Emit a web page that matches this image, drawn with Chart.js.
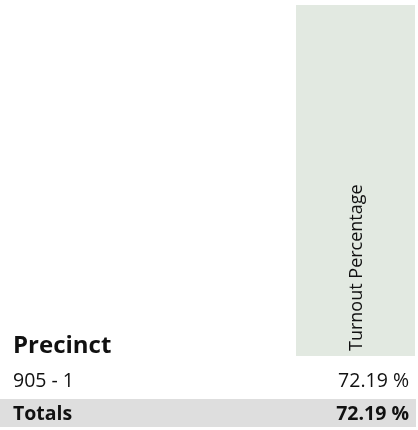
<!DOCTYPE html>
<html>
<head>
<meta charset="utf-8">
<script src="https://cdn.jsdelivr.net/npm/chart.js@4"></script>
<style>
    html, body { margin: 0; padding: 0; background: #ffffff; }
    #wrap { width: 418px; height: 430px; }
</style>
</head>
<body>
<div id="wrap"><canvas id="myChart" width="418" height="430"></canvas></div>
<script>
// Datos de la tabla
const columnHeaders = ['Precinct', 'Turnout Percentage'];
const precincts = ['905 - 1'];
const turnout = [72.19];
const totalsLabel = 'Totals';
const totalsTurnout = [72.19];

const font = '"Open Sans", "Noto Sans", sans-serif';
const fmt = v => v.toFixed(2) + ' %';

// Plugin que dibuja la tabla sobre el canvas
const tablePlugin = {
    id: 'turnoutTable',
    afterDraw(chart) {
        const ctx = chart.ctx;
        const w = chart.width;
        const left = 13;
        const right = 409;
        ctx.save();

        // Encabezado de columna (fondo verde, texto rotado)
        ctx.fillStyle = '#e2e9e1';
        ctx.fillRect(296, 5, 119, 351);
        ctx.save();
        ctx.translate(357, 351);
        ctx.rotate(-Math.PI / 2);
        ctx.fillStyle = '#111111';
        ctx.font = '18px ' + font;
        ctx.textAlign = 'left';
        ctx.textBaseline = 'middle';
        ctx.fillText(columnHeaders[1], 0, 0);
        ctx.restore();

        // Encabezado "Precinct"
        ctx.fillStyle = '#111111';
        ctx.font = 'bold 24px ' + font;
        ctx.textBaseline = 'alphabetic';
        ctx.textAlign = 'left';
        ctx.fillText(columnHeaders[0], left, 353);

        // Filas de datos
        ctx.font = '19.5px ' + font;
        precincts.forEach((p, i) => {
            const y = 387 + i * 28;
            ctx.textAlign = 'left';
            ctx.fillText(p, left, y);
            ctx.textAlign = 'right';
            ctx.fillText(fmt(turnout[i]), right, y);
        });

        // Fila de totales
        const ty = 399 + (precincts.length - 1) * 28;
        ctx.fillStyle = '#dedede';
        ctx.fillRect(0, ty, w - 2, 28);
        ctx.fillStyle = '#111111';
        ctx.font = 'bold 19.5px ' + font;
        ctx.textAlign = 'left';
        ctx.fillText(totalsLabel, left, ty + 21);
        ctx.textAlign = 'right';
        ctx.fillText(fmt(totalsTurnout[0]), right, ty + 21);

        ctx.restore();
    }
};

const ctx = document.getElementById('myChart').getContext('2d');
new Chart(ctx, {
    type: 'bar',
    data: {
        labels: precincts,
        datasets: [{ label: columnHeaders[1], data: turnout, backgroundColor: 'rgba(0,0,0,0)' }]
    },
    options: {
        responsive: false,
        animation: false,
        plugins: { legend: { display: false }, tooltip: { enabled: false } },
        scales: { x: { display: false }, y: { display: false } }
    },
    plugins: [tablePlugin]
});
</script>
</body>
</html>
